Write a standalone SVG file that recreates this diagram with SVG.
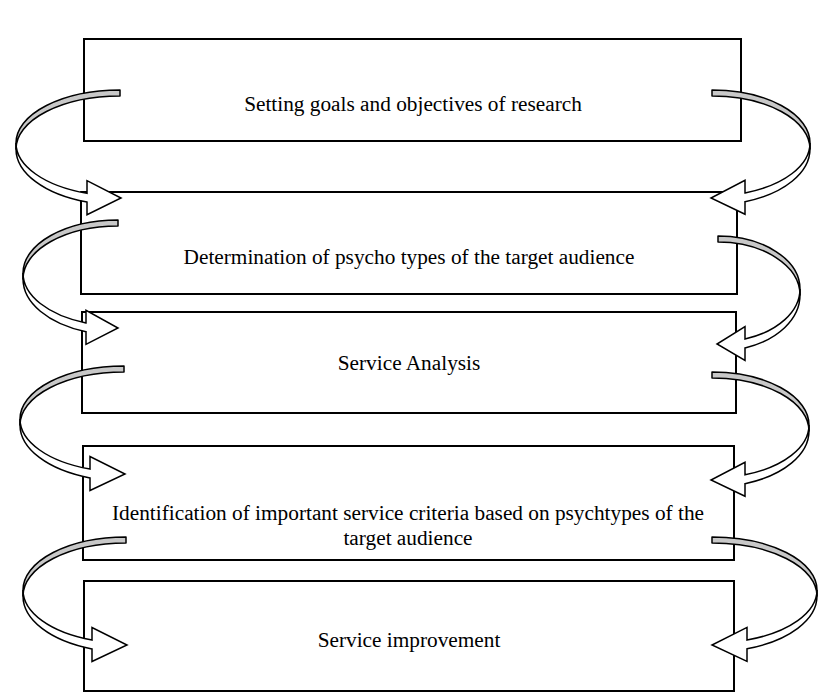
<svg xmlns="http://www.w3.org/2000/svg" width="831" height="700" viewBox="0 0 831 700">
<style>
.box{fill:#fff;stroke:#000;stroke-width:2}
.lbl{font-family:"Liberation Serif","Times New Roman",serif;font-size:21.3px;fill:#000;text-anchor:middle}
.back{fill:#c8c8c8;stroke:#000;stroke-width:1.5;stroke-linejoin:round}
.front{fill:#fff;stroke:#000;stroke-width:1.5;stroke-linejoin:miter}
</style>
<rect width="831" height="700" fill="#fff"/>
<g id="n1"><rect class="box" x="84" y="39" width="657" height="102"/><text class="lbl" x="413" y="110.5">Setting goals and objectives of research</text></g>
<g id="n2"><rect class="box" x="81" y="192" width="656" height="102"/><text class="lbl" x="409" y="264">Determination of psycho types of the target audience</text></g>
<g id="n3"><rect class="box" x="82" y="312" width="654" height="101"/><text class="lbl" x="409" y="370">Service Analysis</text></g>
<g id="n4"><rect class="box" x="83" y="446" width="651" height="114"/><text class="lbl" x="408" y="520">Identification of important service criteria based on psychtypes of the</text><text class="lbl" x="408" y="545">target audience</text></g>
<g id="n5"><rect class="box" x="84" y="581" width="650" height="110"/><text class="lbl" x="409" y="647">Service improvement</text></g>
<g id="connectors">
<!-- L1 -->
<path class="back" d="M120,90 A104,53 0 0 0 16,143 L16,149 A104,53 0 0 1 120,96 Z"/>
<path class="front" d="M16,143 A104,53 0 0 0 87,193.3 L87,180.7 L121,198 L87,214.7 L87,202.1 A104,56 0 0 1 16,149 Z"/>
<!-- R1 -->
<path class="back" d="M712,90 A98,53 0 0 1 810,143 L810,149 A98,53 0 0 0 712,96 Z"/>
<path class="front" d="M810,143 A98,53 0 0 1 745,192.9 L745,180.3 L711,198 L745,214.3 L745,201.7 A98,56 0 0 0 810,149 Z"/>
<!-- L2 -->
<path class="back" d="M118,220 A95,53 0 0 0 23,273 L23,279 A95,53 0 0 1 118,226 Z"/>
<path class="front" d="M23,273 A95,53 0 0 0 86,322.9 L86,310.3 L118,328 L86,344.3 L86,331.7 A95,56 0 0 1 23,279 Z"/>
<!-- R2 -->
<path class="back" d="M718,236 A82,53 0 0 1 800,289 L800,295 A82,53 0 0 0 718,242 Z"/>
<path class="front" d="M800,289 A82,53 0 0 1 745,339 L745,326.5 L717,344 L745,360.5 L745,347.9 A82,56 0 0 0 800,295 Z"/>
<!-- L3 -->
<path class="back" d="M124,366 A104,53 0 0 0 20,419 L20,425 A104,53 0 0 1 124,372 Z"/>
<path class="front" d="M20,419 A104,53 0 0 0 90,469.1 L90,456.5 L125,474 L90,490.5 L90,477.9 A104,56 0 0 1 20,425 Z"/>
<!-- R3 -->
<path class="back" d="M712,372 A97,53 0 0 1 809,425 L809,431 A97,53 0 0 0 712,378 Z"/>
<path class="front" d="M809,425 A97,53 0 0 1 745,474.8 L745,462.3 L711,480 L745,496.3 L745,483.7 A97,56 0 0 0 809,431 Z"/>
<!-- L4 -->
<path class="back" d="M126,537 A103,53 0 0 0 23,590 L23,596 A103,53 0 0 1 126,543 Z"/>
<path class="front" d="M23,590 A103,53 0 0 0 92,640 L92,627.5 L127,645 L92,661.5 L92,648.9 A103,56 0 0 1 23,596 Z"/>
<!-- R4 -->
<path class="back" d="M712,537 A105,53 0 0 1 817,590 L817,596 A105,53 0 0 0 712,543 Z"/>
<path class="front" d="M817,590 A105,53 0 0 1 747,640 L747,627.4 L712,645 L747,661.4 L747,648.8 A105,56 0 0 0 817,596 Z"/>
</g>
</svg>
